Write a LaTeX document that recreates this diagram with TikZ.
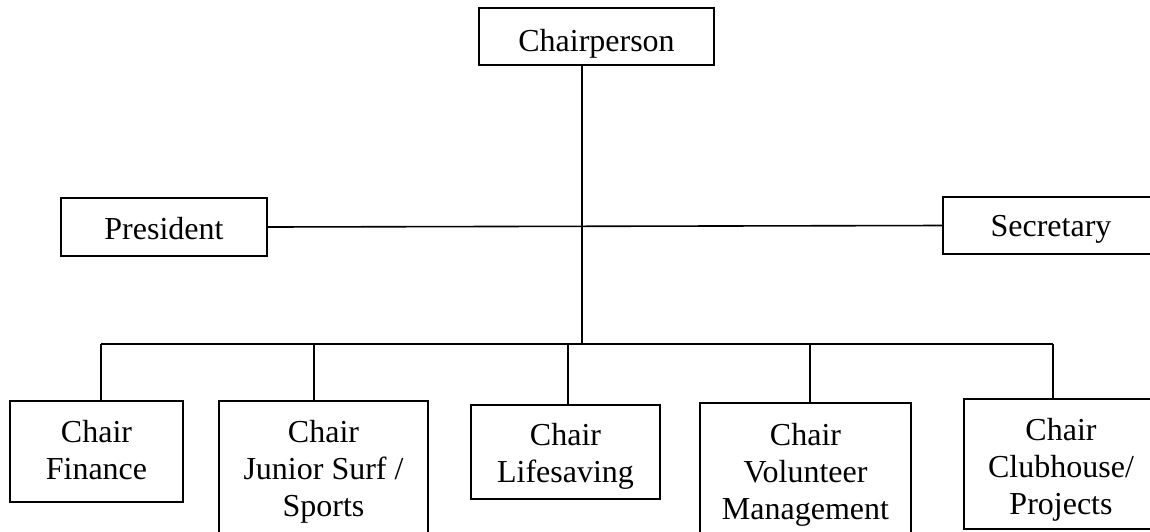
\documentclass[tikz,border=0pt]{standalone}
\usepackage{fontspec}
\setmainfont{Liberation Serif}
\begin{document}
\begin{tikzpicture}[x=1pt,y=-1pt,
  box/.style={draw,line width=1.6pt,inner sep=0pt,align=center,
    font=\fontsize{32}{37}\selectfont},
  link/.style={line width=1.6pt}]
\useasboundingbox (0,0) rectangle (1150,531);
\clip (0,0) rectangle (1150,531);
\node[box,minimum width=235pt,minimum height=57pt,text height=35pt,text depth=5pt] (chair) at (596.5,36.5) {Chairperson};
\node[box,minimum width=206pt,minimum height=58pt,text height=28pt,text depth=4pt] (pres) at (164,227) {President};
\node[box,minimum width=216pt,minimum height=57pt,text height=26pt,text depth=5pt] (sec) at (1051,225.5) {Secretary};
\node[box,minimum width=173pt,minimum height=101pt,text height=57pt,text depth=2pt] (fin) at (96.5,451.5) {Chair\\Finance};
\node[box,minimum width=209pt,minimum height=141pt] (jun) at (323.5,471.5) {Chair\\Junior Surf /\\Sports};
\node[box,minimum width=189pt,minimum height=94pt,text height=61pt,text depth=1pt] (life) at (565.5,452) {Chair\\Lifesaving};
\node[box,minimum width=211pt,minimum height=143pt] (vol) at (805.5,474.5) {Chair\\Volunteer\\Management};
\node[box,minimum width=194pt,minimum height=130pt,text height=104pt,text depth=4pt] (club) at (1061,464) {Chair\\Clubhouse/\\Projects};
\coordinate (busC) at (582,344);
\coordinate (busL) at (101,344);
\coordinate (busR) at (1053,344);
\coordinate (dJ) at (314,344);
\coordinate (dL) at (568,344);
\coordinate (dV) at (810,344);
\draw[link] (chair.south -| busC) -- (busC);
\draw[link] (pres.east) -- (sec.west);
\draw[link] (busL) -- (busR);
\draw[link] (busL) -- (busL |- fin.north);
\draw[link] (dJ) -- (dJ |- jun.north);
\draw[link] (dL) -- (dL |- life.north);
\draw[link] (dV) -- (dV |- vol.north);
\draw[link] (busR) -- (busR |- club.north);
\end{tikzpicture}
\end{document}
